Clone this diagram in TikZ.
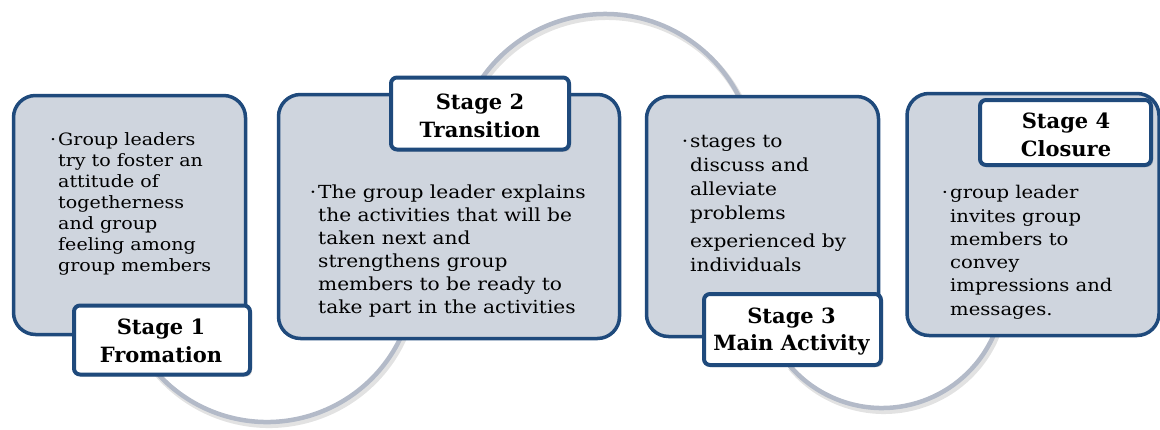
\documentclass[tikz,border=0pt]{standalone}
\usepackage{fontspec}
\setmainfont{DejaVu Serif}
\newfontfamily\bodyfont[FakeStretch=1.12]{DejaVu Serif}
\usetikzlibrary{shadows}
\definecolor{boxblue}{HTML}{1F4A7C}
\definecolor{boxfill}{HTML}{CFD5DE}
\definecolor{arcgray}{HTML}{B3BAC8}
\tikzset{
  mainbox/.style={draw=boxblue, line width=3.5pt, fill=boxfill, rounded corners=22pt, inner sep=0pt},
  stagebox/.style={draw=boxblue, line width=4pt, fill=white, rounded corners=6pt, inner sep=0pt,
     drop shadow={shadow xshift=2pt, shadow yshift=-2pt, opacity=0.35}},
  bodytext/.style={anchor=north west, inner sep=0pt, align=left},
  stagetext/.style={anchor=north, inner sep=0pt, align=center, font=\bfseries\fontsize{21}{27.5}\selectfont},
  arcline/.style={draw=arcgray, line width=4.5pt},
  arcshadow/.style={draw=black!45, opacity=0.25, line width=6pt}
}
\newcommand{\bul}{\rule{0pt}{1em}\llap{\textperiodcentered\hspace{2pt}}}
\newcommand{\tp}{\rule{0pt}{1em}}
\begin{document}
\begin{tikzpicture}[x=1pt,y=-1pt]
\useasboundingbox (0,0) rectangle (1160,429);
% arcs
\draw[arcshadow] ([shift={(20:148)}]269,277) arc (20:140:148);
\draw[arcline] ([shift={(20:148)}]267,274) arc (20:140:148);
\draw[arcshadow] ([shift={(-150:150)}]607,167) arc (-150:-25:150);
\draw[arcline] ([shift={(-150:150)}]605,164) arc (-150:-25:150);
\draw[arcshadow] ([shift={(20:122)}]884,289) arc (20:140:122);
\draw[arcline] ([shift={(20:122)}]882,286) arc (20:140:122);
% main boxes
\node[mainbox, minimum width=232pt, minimum height=239pt] (b1) at (129.5,215) {};
\node[mainbox, minimum width=341pt, minimum height=244pt] (b2) at (449,216.5) {};
\node[mainbox, minimum width=232pt, minimum height=240pt] (b3) at (762.5,216.5) {};
\node[mainbox, minimum width=252pt, minimum height=242pt] (b4) at (1033,214.5) {};
% body texts (anchor at first baseline minus 1em)
\node[bodytext, font=\bodyfont\fontsize{17}{21}\selectfont] (t1) at (58,128.7) {\bul Group leaders\\try to foster an\\attitude of\\togetherness\\and group\\feeling among\\group members};
\node[bodytext, font=\bodyfont\fontsize{18}{23}\selectfont] (t2) at (318,180) {\bul The group leader explains\\the activities that will be\\taken next and\\strengthens group\\members to be ready to\\take part in the activities};
\node[bodytext, font=\bodyfont\fontsize{18}{24}\selectfont] (t3) at (690,129) {\bul stages to\\discuss and\\alleviate\\problems\\[4pt]experienced by\\individuals};
\node[bodytext, font=\bodyfont\fontsize{17.5}{23.3}\selectfont] (t4) at (950,181) {\bul group leader\\invites group\\members to\\convey\\impressions and\\messages.};
% stage labels
\node[stagebox, minimum width=176pt, minimum height=69pt] (s1) at (162,340) {};
\node[stagetext] (l1) at (161,313.5) {\tp Stage 1\\Fromation};
\node[stagebox, minimum width=178pt, minimum height=72pt] (s2) at (480,113.5) {};
\node[stagetext] (l2) at (480,88.3) {\tp Stage 2\\Transition};
\node[stagebox, minimum width=177pt, minimum height=71pt] (s3) at (792.5,329.5) {};
\node[stagetext] (l3) at (791.5,302) {\tp Stage 3\\Main Activity};
\node[stagebox, minimum width=171pt, minimum height=65pt] (s4) at (1065.5,132.5) {};
\node[stagetext] (l4) at (1066,107.5) {\tp Stage 4\\Closure};
\end{tikzpicture}
\end{document}
